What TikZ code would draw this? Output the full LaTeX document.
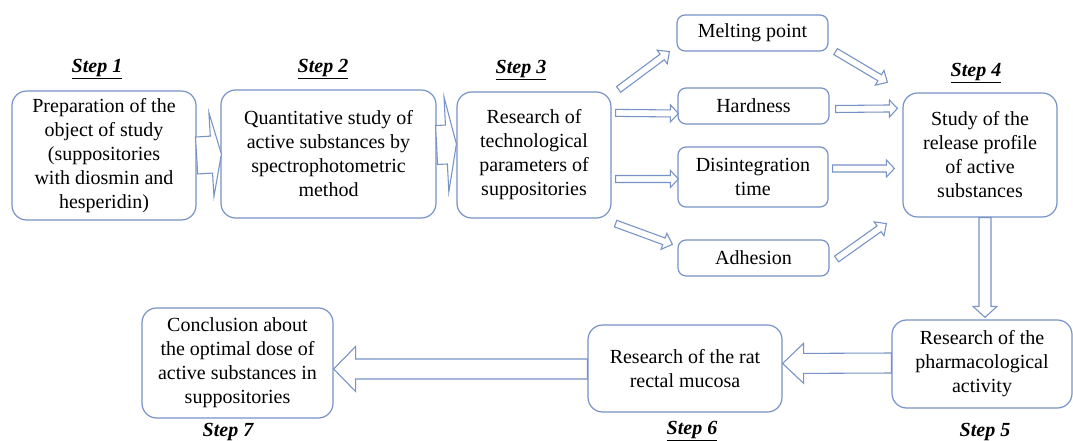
\documentclass[tikz,border=0pt]{standalone}
\usepackage{fontspec}
\setmainfont{Liberation Serif}
\newfontfamily\tnr{Liberation Serif}
\usetikzlibrary{calc}
\definecolor{bl}{RGB}{118,146,198}
% block arrow: #1 tail, #2 tip, #3 shaft half-width, #4 head half-width, #5 head length (px)
\newcommand{\myBlockArrow}[5]{%
  \path coordinate (hbtmp) at ($(#2)!#5*0.75pt!(#1)$);
  \draw[blkarrow] ($(#1)!#3*0.75pt!90:(#2)$) -- ($(hbtmp)!#3*0.75pt!90:(#2)$)
    -- ($(hbtmp)!#4*0.75pt!90:(#2)$) -- (#2)
    -- ($(hbtmp)!#4*0.75pt!-90:(#2)$) -- ($(hbtmp)!#3*0.75pt!-90:(#2)$)
    -- ($(#1)!#3*0.75pt!-90:(#2)$) -- cycle;}
\tikzset{
  x=0.75pt, y=-0.75pt,
  bigbox/.style={draw=bl, line width=0.9pt, rounded corners=11pt, align=center,
    inner sep=0pt, font=\tnr\fontsize{15pt}{18pt}\selectfont},
  smallbox/.style={draw=bl, line width=0.9pt, rounded corners=6pt, align=center,
    inner sep=0pt, font=\tnr\fontsize{15pt}{18pt}\selectfont},
  steplbl/.style={font=\tnr\fontsize{15pt}{18pt}\selectfont\bfseries\itshape, inner sep=0pt},
  blkarrow/.style={draw=bl, line width=0.8pt, fill=white, line join=miter},
}
\begin{document}
\begin{tikzpicture}
\useasboundingbox[fill=white] (0,0) rectangle (1073,441);
% boxes
\node[bigbox, minimum width={184*0.75pt}, minimum height={129*0.75pt}] (s1) at (104,155.5)
  {Preparation of the\\object of study\\(suppositories\\with diosmin and\\hesperidin)};
\node[bigbox, minimum width={215*0.75pt}, minimum height={128*0.75pt}] (s2) at (328.5,154)
  {Quantitative study of\\active substances by\\spectrophotometric\\method};
\node[bigbox, minimum width={154*0.75pt}, minimum height={126*0.75pt}] (s3) at (534,155)
  {Research of\\technological\\parameters of\\suppositories};
\node[smallbox, minimum width={151*0.75pt}, minimum height={36*0.75pt}] (mp) at (752.5,33) {Melting point};
\node[smallbox, minimum width={151*0.75pt}, minimum height={36*0.75pt}] (hd) at (753.5,106) {Hardness};
\node[smallbox, minimum width={150*0.75pt}, minimum height={60*0.75pt}] (dt) at (753,177) {Disintegration\\time};
\node[smallbox, minimum width={151*0.75pt}, minimum height={36*0.75pt}] (ad) at (753.5,258) {Adhesion};
\node[bigbox, minimum width={154*0.75pt}, minimum height={124*0.75pt}] (s4) at (980,155)
  {Study of the\\release profile\\of active\\substances};
\node[bigbox, minimum width={180*0.75pt}, minimum height={88*0.75pt}] (s5) at (982,364)
  {Research of the\\pharmacological\\activity};
\node[bigbox, minimum width={194*0.75pt}, minimum height={87*0.75pt}] (s6) at (685,368.5)
  {Research of the rat\\rectal mucosa};
\node[bigbox, minimum width={191*0.75pt}, minimum height={110*0.75pt}] (s7) at (237.5,363)
  {Conclusion about\\the optimal dose of\\active substances in\\suppositories};
% step labels
\node[steplbl] (l1) at (97,69) {\underline{Step 1}};
\node[steplbl] (l2) at (323,69) {\underline{Step 2}};
\node[steplbl] (l3) at (521,70) {\underline{Step 3}};
\node[steplbl] (l4) at (976,73) {\underline{Step 4}};
\node[steplbl] (l5) at (985,433) {\underline{Step 5}};
\node[steplbl] (l6) at (692,431) {\underline{Step 6}};
\node[steplbl] (l7) at (228,433) {\underline{Step 7}};
% arrows
\myBlockArrow{s1.east}{$(s2.west)+(1,0)$}{18.5}{42}{10}
\myBlockArrow{$(s2.east)+(0,-9)$}{$(s3.west)+(0,-11)$}{19.5}{47.5}{10}
\myBlockArrow{$(s3.north east)+(7,-2)$}{$(mp.south west)+(-7,0)$}{3.5}{8.5}{9}
\myBlockArrow{$(s3.north east)+(4,21.5)$}{$(hd.west)+(1,7.5)$}{3.5}{8.5}{8}
\myBlockArrow{$(s3.east)+(4,24)$}{$(dt.west)+(1,2)$}{3.5}{8.5}{8}
\myBlockArrow{$(s3.south east)+(4,5)$}{$(ad.north west)+(-5,5)$}{3.5}{8.5}{9}
\myBlockArrow{$(mp.south east)+(7,0)$}{$(s4.north west)+(-15,-10)$}{3.5}{8.5}{9}
\myBlockArrow{$(hd.east)+(6,3)$}{$(s4.north west)+(-5,16)$}{3.5}{8.5}{8}
\myBlockArrow{$(dt.east)+(4,-8.5)$}{$(s4.west)+(-8,13.5)$}{3.5}{8.5}{8}
\myBlockArrow{$(ad.east)+(7,1)$}{$(s4.south west)+(-16,6)$}{3.5}{8.5}{9}
\myBlockArrow{$(s4.south)+(5,0)$}{$(s5.north)+(3,-2)$}{6}{12}{11}
\myBlockArrow{$(s5.west)+(0,-1)$}{$(s6.east)+(0,-5)$}{10}{20}{21}
\myBlockArrow{$(s6.west)+(0,0.5)$}{$(s7.east)+(0,6)$}{10}{22.5}{22}
\end{tikzpicture}
\end{document}
